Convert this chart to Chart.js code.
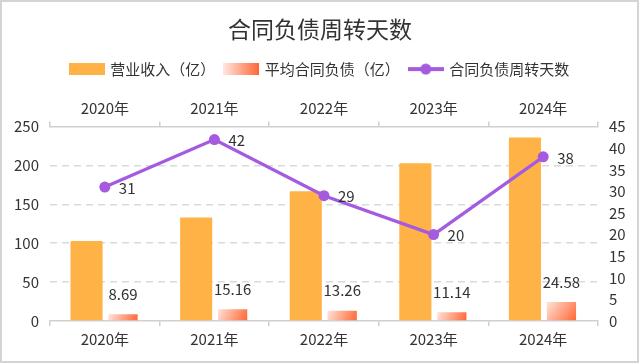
<!DOCTYPE html>
<html><head><meta charset="utf-8">
<script src="https://cdn.jsdelivr.net/npm/chart.js@4/dist/chart.umd.min.js"></script>
<style>html,body{margin:0;padding:0;background:#fff}canvas{display:block}</style>
</head><body>
<canvas id="c" width="640" height="364"></canvas>
<script>
const categories = ['2020年', '2021年', '2022年', '2023年', '2024年'];
const revenue = [103, 133, 167, 203, 236];
const avgLiability = [8.69, 15.16, 13.26, 11.14, 24.58];
const turnoverDays = [31, 42, 29, 20, 38];
const leftTicks = [0, 50, 100, 150, 200, 250];
const rightTicks = [0, 5, 10, 15, 20, 25, 30, 35, 40, 45];
const seriesNames = ['营业收入（亿）', '平均合同负债（亿）', '合同负债周转天数'];
const titleText = '合同负债周转天数';

const FONT = "'Noto Sans CJK SC', 'Noto Sans', sans-serif";
const TXT = '#333333';
const ORANGE = '#FFB246';
const PURPLE = '#A45BE0';
const AXIS = '#d0d0d0';

function makeIcon(kind) {
  const c = document.createElement('canvas');
  c.width = 36; c.height = 12;
  const g = c.getContext('2d');
  if (kind === 0) { g.fillStyle = ORANGE; g.fillRect(0, 0, 36, 12); }
  else if (kind === 1) {
    const gr = g.createLinearGradient(0, 0, 36, 0);
    gr.addColorStop(0, '#FFE8E0'); gr.addColorStop(1, '#FF6633');
    g.fillStyle = gr; g.fillRect(0, 0, 36, 12);
  } else {
    g.strokeStyle = PURPLE; g.lineWidth = 4;
    g.beginPath(); g.moveTo(0, 6); g.lineTo(36, 6); g.stroke();
    g.fillStyle = PURPLE; g.beginPath(); g.arc(18, 6, 5.5, 0, Math.PI * 2); g.fill();
  }
  return c;
}
const icons = [makeIcon(0), makeIcon(1), makeIcon(2)];

function redGrad(ctx) {
  const chart = ctx.chart;
  const xs = chart.scales.x, ys = chart.scales.y;
  if (ctx.type !== 'data' || !xs || !ys || !chart.chartArea) return '#FF8A5C';
  const cx = xs.getPixelForValue(ctx.dataIndex);
  const x0 = cx + 3, x1 = cx + 33;
  const y0 = ys.getPixelForValue(ctx.raw), y1 = ys.getPixelForValue(0);
  const gr = chart.ctx.createLinearGradient(x0, y0 - 2, x1, y1);
  gr.addColorStop(0, '#FFE8E0');
  gr.addColorStop(1, '#FF6633');
  return gr;
}

const frame = {
  id: 'frame',
  beforeDraw(chart) {
    const c = chart.ctx; c.save(); c.fillStyle = '#fff'; c.fillRect(0, 0, chart.width, chart.height); c.restore();
  },
  afterDraw(chart) {
    const c = chart.ctx; c.save(); c.strokeStyle = '#d4d4d4'; c.lineWidth = 2;
    c.strokeRect(1, 1, 637, 361); c.restore();
  }
};

const valueLabels = {
  id: 'valueLabels',
  afterDatasetsDraw(chart) {
    const c = chart.ctx;
    c.save();
    c.font = '15px ' + FONT;
    c.fillStyle = TXT;
    const barMeta = chart.getDatasetMeta(1);
    c.textAlign = 'center'; c.textBaseline = 'middle';
    barMeta.data.forEach((el, i) => {
      c.fillText(String(avgLiability[i]), el.x, el.y - 20);
    });
    const lineMeta = chart.getDatasetMeta(2);
    c.textAlign = 'left';
    lineMeta.data.forEach((el, i) => {
      c.fillText(String(turnoverDays[i]), el.x + 14, el.y + 1);
    });
    c.restore();
  }
};

new Chart(document.getElementById('c'), {
  data: {
    labels: categories,
    datasets: [
      { type: 'bar', label: seriesNames[0], data: revenue, backgroundColor: ORANGE, borderRadius: 1,
        yAxisID: 'y', xAxisID: 'x', order: 2, categoryPercentage: 0.666, barPercentage: 0.88 },
      { type: 'bar', label: seriesNames[1], data: avgLiability, backgroundColor: redGrad,
        yAxisID: 'y', xAxisID: 'x', order: 2, categoryPercentage: 0.666, barPercentage: 0.8 },
      { type: 'line', label: seriesNames[2], data: turnoverDays, borderColor: PURPLE, backgroundColor: PURPLE,
        borderWidth: 3.2, pointRadius: 5.5, pointHoverRadius: 5.5, pointBackgroundColor: PURPLE, pointBorderWidth: 0,
        yAxisID: 'y1', xAxisID: 'x', order: 0, tension: 0 }
    ]
  },
  options: {
    responsive: false,
    devicePixelRatio: 1,
    animation: false,
    layout: { padding: 0 },
    plugins: {
      tooltip: { enabled: false },
      title: { display: true, text: titleText, color: TXT, font: { family: FONT, size: 23, weight: 'normal' },
        padding: { top: 15, bottom: 9 } },
      legend: {
        display: true, position: 'top',
        labels: {
          color: TXT, font: { family: FONT, size: 15 }, usePointStyle: true, pointStyleWidth: 32,
          boxHeight: 12, padding: 10,
          generateLabels(chart) {
            const items = Chart.defaults.plugins.legend.labels.generateLabels(chart);
            items.forEach(it => { it.pointStyle = icons[it.datasetIndex]; });
            items.sort((a, b) => a.datasetIndex - b.datasetIndex);
            return items;
          }
        }
      }
    },
    scales: {
      x: {
        type: 'category', position: 'bottom', offset: true,
        grid: { offset: true, drawOnChartArea: false, drawTicks: true, tickLength: 5, color: AXIS, lineWidth: 1.5 },
        border: { display: true, color: AXIS, width: 1.5 },
        ticks: { color: TXT, font: { family: FONT, size: 15 }, padding: 4, maxRotation: 0 },
        afterFit(s) { s.height = 43; }
      },
      x2: {
        type: 'category', position: 'top', labels: categories, offset: true,
        grid: { offset: true, drawOnChartArea: false, drawTicks: true, tickLength: 5, color: AXIS, lineWidth: 1.5 },
        border: { display: true, color: AXIS, width: 1.5 },
        ticks: { color: TXT, font: { family: FONT, size: 15 }, padding: 4, maxRotation: 0 },
        afterFit(s) { s.height = 40; }
      },
      y: {
        type: 'linear', position: 'left',
        min: leftTicks[0], max: leftTicks[leftTicks.length - 1],
        afterBuildTicks(s) { s.ticks = leftTicks.map(v => ({ value: v })); },
        grid: { drawTicks: false, lineWidth: 1.5,
          color: c => (c.tick && (c.tick.value === leftTicks[0] || c.tick.value === leftTicks[leftTicks.length - 1])) ? 'rgba(0,0,0,0)' : '#dadada' },
        border: { display: false, dash: [7, 5] },
        ticks: { color: TXT, font: { family: FONT, size: 15 }, padding: 11 },
        afterFit(s) { s.width = 50; }
      },
      y1: {
        type: 'linear', position: 'right',
        min: rightTicks[0], max: rightTicks[rightTicks.length - 1],
        afterBuildTicks(s) { s.ticks = rightTicks.map(v => ({ value: v })); },
        grid: { display: false, drawTicks: false },
        border: { display: false },
        ticks: { color: TXT, font: { family: FONT, size: 15 }, padding: 11 },
        afterFit(s) { s.width = 42; }
      }
    }
  },
  plugins: [frame, valueLabels]
});
</script>
</body></html>
